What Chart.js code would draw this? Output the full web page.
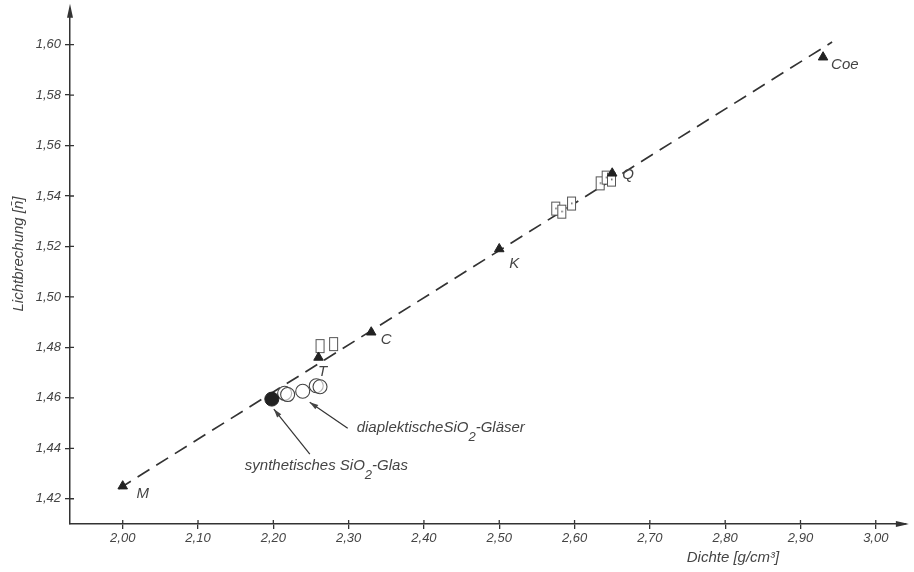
<!DOCTYPE html>
<html>
<head>
<meta charset="utf-8">
<script src="https://cdn.jsdelivr.net/npm/chart.js@4.4.0/dist/chart.umd.min.js"></script>
<style>
  html, body { margin: 0; padding: 0; background: #fff; }
  canvas { display: block; }
</style>
</head>
<body>
<canvas id="chart" width="914" height="572"></canvas>
<script>
// tick values
const xTicks = [2.0, 2.1, 2.2, 2.3, 2.4, 2.5, 2.6, 2.7, 2.8, 2.9, 3.0];
const yTicks = [1.42, 1.44, 1.46, 1.48, 1.50, 1.52, 1.54, 1.56, 1.58, 1.60];

// SiO2 modifications (triangles)
const triLabels = ['M', 'T', 'C', 'K', 'Q', 'Coe'];
const triX = [2.00, 2.26, 2.33, 2.50, 2.65, 2.93];
const triY = [1.425, 1.476, 1.486, 1.519, 1.549, 1.595];

// dashed trend line
const lineX = [1.995, 2.942];
const lineY = [1.424, 1.601];

// synthetic glass (filled circle)
const synthX = [2.198];
const synthY = [1.4595];

// diaplectic glasses (open circles)
const diapX = [2.215, 2.219, 2.239, 2.257, 2.262];
const diapY = [1.4618, 1.4613, 1.4626, 1.4648, 1.4644];

// open rectangles
const rectX = [2.262, 2.280, 2.575, 2.583, 2.596, 2.634, 2.642, 2.649];
const rectY = [1.4805, 1.4813, 1.5350, 1.5338, 1.5370, 1.5450, 1.5473, 1.5465];
const rectDot = [false, false, true, true, true, true, true, true];

const INK = '#333';
const TXT = '#444';
const FONT = "'Liberation Sans', 'DejaVu Sans', sans-serif";

function pts(xs, ys) {
  return xs.map((x, i) => ({ x: x, y: ys[i] }));
}

function makeRect(dot) {
  const c = document.createElement('canvas');
  c.width = 11; c.height = 16;
  const g = c.getContext('2d');
  g.strokeStyle = '#555';
  g.lineWidth = 1;
  g.fillStyle = '#fff';
  g.fillRect(1, 1, 9, 14);
  g.strokeRect(1.5, 1.5, 8, 13);
  if (dot) {
    g.fillStyle = '#555';
    g.fillRect(5, 7, 1.5, 1.5);
  }
  return c;
}
const rectImgDot = makeRect(true);
const rectImgPlain = makeRect(false);

const labelOffsets = [[20, 8], [4, 14], [15, 8], [15, 15], [16, 2], [13, 8]];

const decorPlugin = {
  id: 'decor',
  afterDraw(chart) {
    const ctx = chart.ctx;
    const xs = chart.scales.x;
    const ys = chart.scales.y;
    const area = chart.chartArea;
    ctx.save();

    // inner part of crossing tick marks
    ctx.strokeStyle = INK;
    ctx.lineWidth = 1.3;
    ctx.beginPath();
    xTicks.forEach((v) => {
      const px = xs.getPixelForValue(v);
      ctx.moveTo(px, area.bottom);
      ctx.lineTo(px, area.bottom - 4);
    });
    yTicks.forEach((v) => {
      const py = ys.getPixelForValue(v);
      ctx.moveTo(area.left, py);
      ctx.lineTo(area.left + 4, py);
    });
    ctx.stroke();

    // axis arrows
    ctx.fillStyle = INK;
    ctx.beginPath();
    ctx.moveTo(area.left, area.top - 8);
    ctx.lineTo(area.left - 3, area.top + 6);
    ctx.lineTo(area.left + 3, area.top + 6);
    ctx.closePath();
    ctx.fill();
    ctx.beginPath();
    ctx.moveTo(area.right + 3, area.bottom);
    ctx.lineTo(area.right - 10, area.bottom - 3);
    ctx.lineTo(area.right - 10, area.bottom + 3);
    ctx.closePath();
    ctx.fill();

    // point labels
    ctx.fillStyle = TXT;
    ctx.font = 'italic 15px ' + FONT;
    ctx.textBaseline = 'middle';
    triLabels.forEach((t, i) => {
      const px = xs.getPixelForValue(triX[i]);
      const py = ys.getPixelForValue(triY[i]);
      const off = labelOffsets[i];
      ctx.textAlign = t.length > 1 ? 'left' : 'center';
      ctx.fillText(t, px + off[0] - (t.length > 1 ? 5 : 0), py + off[1]);
    });

    // annotations with arrows
    function arrow(x1, y1, x2, y2) {
      ctx.strokeStyle = INK;
      ctx.lineWidth = 1.2;
      ctx.beginPath();
      ctx.moveTo(x1, y1);
      ctx.lineTo(x2, y2);
      ctx.stroke();
      const a = Math.atan2(y2 - y1, x2 - x1);
      ctx.beginPath();
      ctx.moveTo(x2, y2);
      ctx.lineTo(x2 - 9 * Math.cos(a - 0.3), y2 - 9 * Math.sin(a - 0.3));
      ctx.lineTo(x2 - 9 * Math.cos(a + 0.3), y2 - 9 * Math.sin(a + 0.3));
      ctx.closePath();
      ctx.fill();
    }
    function sioText(x, y, before, after) {
      ctx.textAlign = 'left';
      ctx.textBaseline = 'middle';
      ctx.font = 'italic 15px ' + FONT;
      ctx.fillText(before, x, y);
      let w = ctx.measureText(before).width;
      ctx.font = 'italic 13px ' + FONT;
      ctx.fillText('2', x + w, y + 9);
      w += ctx.measureText('2').width;
      ctx.font = 'italic 15px ' + FONT;
      ctx.fillText(after, x + w, y);
    }

    const dx = xs.getPixelForValue(diapX[2]);
    const dy = ys.getPixelForValue(diapY[2]);
    arrow(dx + 45, dy + 37, dx + 7, dy + 11);
    sioText(dx + 54, dy + 37, 'diaplektischeSiO', '-Gläser');

    const sx = xs.getPixelForValue(synthX[0]);
    const sy = ys.getPixelForValue(synthY[0]);
    arrow(sx + 38, sy + 55, sx + 2, sy + 10);
    sioText(sx - 27, sy + 67, 'synthetisches SiO', '-Glas');

    // axis titles
    ctx.fillStyle = TXT;
    ctx.font = 'italic 15px ' + FONT;
    ctx.textAlign = 'center';
    ctx.textBaseline = 'middle';
    ctx.fillText('Dichte [g/cm³]', 733, 558);
    ctx.translate(19, 254);
    ctx.rotate(-Math.PI / 2);
    ctx.fillText('Lichtbrechung [n\u0304]', 0, 0);

    ctx.restore();
  }
};

const tickFont = { family: FONT, size: 13, style: 'italic' };

new Chart(document.getElementById('chart').getContext('2d'), {
  type: 'scatter',
  data: {
    datasets: [
      {
        type: 'line',
        data: pts(lineX, lineY),
        borderColor: INK,
        borderWidth: 1.7,
        borderDash: [14, 8],
        pointRadius: 0,
        fill: false,
        order: 10
      },
      {
        data: pts(rectX, rectY),
        pointStyle: rectDot.map((d) => (d ? rectImgDot : rectImgPlain)),
        pointRadius: 7,
        order: 5
      },
      {
        data: pts(diapX, diapY),
        pointStyle: 'circle',
        pointRadius: 7,
        borderColor: '#444',
        borderWidth: 1.1,
        backgroundColor: 'rgba(255,255,255,0.6)',
        order: 4
      },
      {
        data: pts(synthX, synthY),
        pointStyle: 'circle',
        pointRadius: 7,
        borderColor: '#222',
        backgroundColor: '#222',
        order: 3
      },
      {
        data: pts(triX, triY),
        pointStyle: 'triangle',
        pointRadius: 5.5,
        borderColor: '#222',
        backgroundColor: '#222',
        borderWidth: 1,
        order: 1
      }
    ]
  },
  options: {
    responsive: false,
    animation: false,
    devicePixelRatio: 1,
    layout: { padding: { top: 10, right: 4, left: 0, bottom: 0 } },
    plugins: {
      legend: { display: false },
      tooltip: { enabled: false }
    },
    scales: {
      x: {
        type: 'linear',
        min: 1.93,
        max: 3.04,
        afterBuildTicks: (s) => { s.ticks = xTicks.map((v) => ({ value: v })); },
        afterFit: (s) => { s.height = 48; },
        ticks: {
          callback: (v) => Number(v).toFixed(2).replace('.', ','),
          font: tickFont,
          color: TXT,
          padding: 2,
          maxRotation: 0,
          autoSkip: false
        },
        grid: { drawOnChartArea: false, drawTicks: true, tickLength: 5, color: INK, lineWidth: 1.3 },
        border: { color: INK, width: 1.5 }
      },
      y: {
        type: 'linear',
        min: 1.41,
        max: 1.613,
        afterBuildTicks: (s) => { s.ticks = yTicks.map((v) => ({ value: v })); },
        afterFit: (s) => { s.width = 70; },
        ticks: {
          callback: (v) => Number(v).toFixed(2).replace('.', ','),
          font: tickFont,
          color: TXT,
          padding: 4,
          autoSkip: false
        },
        grid: { drawOnChartArea: false, drawTicks: true, tickLength: 5, color: INK, lineWidth: 1.3 },
        border: { color: INK, width: 1.5 }
      }
    }
  },
  plugins: [decorPlugin]
});
</script>
</body>
</html>
